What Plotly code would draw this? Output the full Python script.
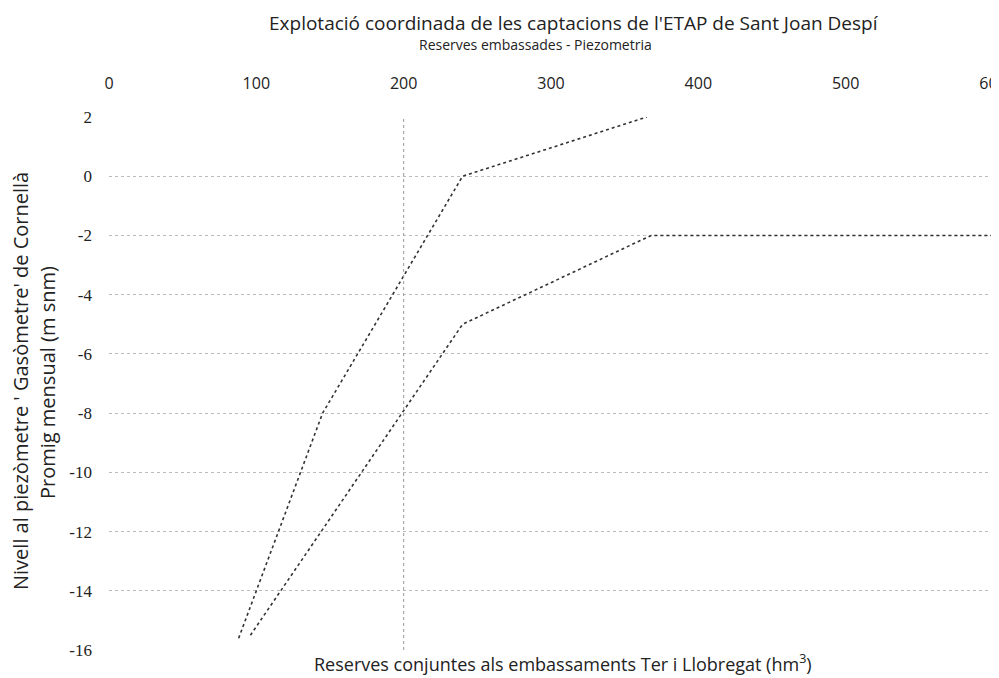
import plotly.graph_objects as go

# ---- data ----
upper_x = [88, 145, 240, 365]
upper_y = [-15.6, -8, 0, 2]
lower_x = [96, 240, 368, 600]
lower_y = [-15.5, -5, -2, -2]

x_ticks = [0, 100, 200, 300, 400, 500, 600]
y_ticks = [2, 0, -2, -4, -6, -8, -10, -12, -14, -16]
y_tick_labels = ["2", "0", "-2", "-4", "-6", "-8", "-10", "-12", "-14", "-16"]
ref_x = 200

title = "Explotació coordinada de les captacions de l'ETAP de Sant Joan Despí"
subtitle = "Reserves embassades - Piezometria"
x_title = "Reserves conjuntes als embassaments Ter i Llobregat (hm<sup>3</sup>)"
y_title1 = "Nivell al piezòmetre ' Gasòmetre' de Cornellà"
y_title2 = "Promig mensual (m snm)"

line_style = dict(color="#333333", width=1.6, dash="dot")

# page has an 8px body margin: figure occupies screen x 8..999, y 8..678
OFF = 8
W, H = 991, 670
L, R, T, B = 101, 6, 109, 28
pw, ph = W - L - R, H - T - B


def px_ann(text, sx, sy, size, angle=0):
    fx, fy = sx - OFF, sy - OFF
    return dict(text=text, x=(fx - L) / pw, y=(H - B - fy) / ph,
                xref="paper", yref="paper", xanchor="center", yanchor="middle",
                showarrow=False, textangle=angle,
                font=dict(size=size, family="Open Sans", color="#222222"))


fig = go.Figure()
fig.add_trace(go.Scatter(x=upper_x, y=upper_y, mode="lines", line=line_style, showlegend=False))
fig.add_trace(go.Scatter(x=lower_x, y=lower_y, mode="lines", line=line_style, showlegend=False))

fig.add_vline(x=ref_x, line=dict(color="#999999", width=1, dash="dot"))

fig.update_layout(
    width=W, height=H,
    margin=dict(l=L, r=R, t=T, b=B, autoexpand=False),
    paper_bgcolor="white", plot_bgcolor="white",
    font=dict(family="Open Sans", color="#222222"),
    xaxis=dict(
        range=[0, 600], side="top", tickvals=x_ticks, automargin=False,
        showgrid=False, zeroline=False, showline=False,
        tickfont=dict(family="Open Sans", size=16, color="#222222"),
        ticklabelstandoff=24, ticklabeloverflow="allow",
    ),
    yaxis=dict(
        range=[-16, 2], tickvals=y_ticks, ticktext=y_tick_labels, automargin=False,
        showgrid=True, gridcolor="#bbbbbb", griddash="dot", gridwidth=1,
        zeroline=False, showline=False,
        tickfont=dict(family="Liberation Serif", size=17, color="#222222"),
        ticklabelstandoff=16,
    ),
    annotations=[
        px_ann(title, 574, 23, 19),
        px_ann(subtitle, 535, 45, 14),
        px_ann(x_title, 563, 663, 18),
        px_ann(y_title1, 20, 381, 20, -90),
        px_ann(y_title2, 47, 383, 20, -90),
    ],
)

fig.write_html("out.html")
